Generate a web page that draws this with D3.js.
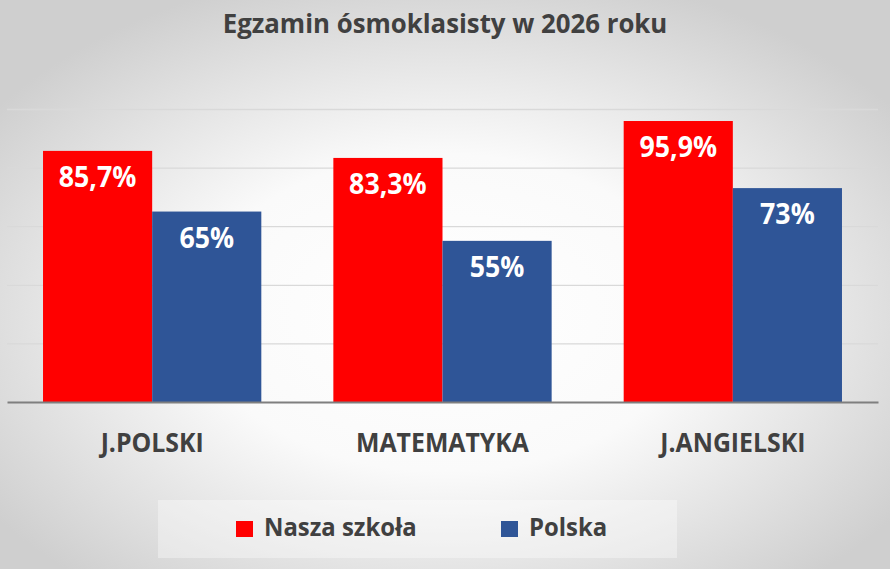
<!DOCTYPE html>
<html>
<head>
<meta charset="utf-8">
<script src="https://cdn.jsdelivr.net/npm/d3@7"></script>
<style>
  html, body { margin: 0; padding: 0; background: #fff; }
  svg { display: block; }
</style>
</head>
<body>
<div id="grafico"></div>
<script>
// datos del gráfico
var przedmioty = ["J.POLSKI", "MATEMATYKA", "J.ANGIELSKI"];
var serie = ["Nasza szkoła", "Polska"];
var naszaSzkola = [85.7, 83.3, 95.9];
var polska = [65, 55, 73];
var etiquetasNasza = ["85,7%", "83,3%", "95,9%"];
var etiquetasPolska = ["65%", "55%", "73%"];
var ticks = [0, 20, 40, 60, 80, 100];
var titulo = "Egzamin ósmoklasisty w 2026 roku";

function dibujar() {
    var w = 890,
        h = 569;

    var fuente = "'Open Sans', 'DejaVu Sans', sans-serif";
    var estrecho = 0.955; // Calibri es algo más estrecha que Open Sans

    var colores = {
        "rojo": "#FF0000",
        "azul": "#2F5597",
        "texto": "#404040",
        "rejilla": "#D9D9D9",
        "eje": "#7F7F7F"
    };

    var svg = d3.select("#grafico")
        .append("svg")
        .attr("width", w)
        .attr("height", h);

    // fondo con degradado radial
    var defs = svg.append("defs");
    var grad = defs.append("radialGradient")
        .attr("id", "fondo")
        .attr("cx", "50%").attr("cy", "55%")
        .attr("r", "62%");
    grad.append("stop").attr("offset", "0%").attr("stop-color", "#ffffff");
    grad.append("stop").attr("offset", "45%").attr("stop-color", "#fafafa");
    grad.append("stop").attr("offset", "100%").attr("stop-color", "#cfcfcf");

    svg.append("rect")
        .attr("width", w).attr("height", h)
        .attr("fill", "url(#fondo)");

    var y = d3.scaleLinear()
        .domain([0, 100])
        .range([402, 109]);

    var x0 = d3.scaleBand()
        .domain(przedmioty)
        .range([7, 878])
        .padding(0);

    var x1 = d3.scaleBand()
        .domain(serie)
        .range([0, x0.bandwidth()])
        .paddingInner(0)
        .paddingOuter(0.33);

    //REJILLA
    svg.append("g")
        .attr("transform", "translate(7,0)")
        .call(d3.axisLeft(y).tickValues(ticks.slice(1)).tickSize(-871).tickFormat(""))
        .call(function(g) { g.select(".domain").remove(); })
        .selectAll("line")
        .attr("stroke", colores.rejilla)
        .attr("stroke-width", 1.3);

    // ajusta el ancho del texto
    function estrechar(sel) {
        sel.each(function() {
            var l = this.getComputedTextLength();
            d3.select(this)
                .attr("textLength", l * estrecho)
                .attr("lengthAdjust", "spacingAndGlyphs");
        });
    }

    //TITULO
    svg.append("text")
        .text(titulo)
        .attr("x", w / 2)
        .attr("y", 33)
        .attr("text-anchor", "middle")
        .attr("font-family", fuente)
        .attr("font-weight", "bold")
        .attr("font-size", "27px")
        .attr("fill", colores.texto)
        .call(estrechar);

    var datos = przedmioty.map(function(p, i) {
        return [
            {cat: p, serie: serie[0], valor: naszaSzkola[i], etiqueta: etiquetasNasza[i], color: colores.rojo},
            {cat: p, serie: serie[1], valor: polska[i], etiqueta: etiquetasPolska[i], color: colores.azul}
        ];
    });

    //BARRAS
    var grupos = svg.selectAll("g.grupo")
        .data(datos)
        .enter().append("g")
        .attr("class", "grupo")
        .attr("transform", function(d) { return "translate(" + x0(d[0].cat) + ",0)"; });

    grupos.selectAll("rect")
        .data(function(d) { return d; })
        .enter().append("rect")
        .attr("x", function(d) { return x1(d.serie); })
        .attr("y", function(d) { return y(d.valor); })
        .attr("width", x1.bandwidth())
        .attr("height", function(d) { return y(0) - y(d.valor); })
        .attr("fill", function(d) { return d.color; });

    grupos.selectAll("text")
        .data(function(d) { return d; })
        .enter().append("text")
        .text(function(d) { return d.etiqueta; })
        .attr("x", function(d) { return x1(d.serie) + x1.bandwidth() / 2; })
        .attr("y", function(d) { return y(d.valor) + 36; })
        .attr("text-anchor", "middle")
        .attr("font-family", fuente)
        .attr("font-weight", "bold")
        .attr("font-size", "28px")
        .attr("fill", "#ffffff")
        .call(estrechar);

    //EJE X
    var ejeX = svg.append("g")
        .attr("transform", "translate(0," + y(0) + ")")
        .call(d3.axisBottom(x0).tickSize(0).tickPadding(0));

    ejeX.select(".domain")
        .attr("stroke", colores.eje)
        .attr("stroke-width", 2);

    ejeX.selectAll("text")
        .attr("dy", null)
        .attr("y", 50)
        .attr("font-family", fuente)
        .attr("font-weight", "bold")
        .attr("font-size", "26px")
        .attr("fill", colores.texto)
        .call(estrechar);

    //LEYENDA
    var leyenda = svg.append("g");
    leyenda.append("rect")
        .attr("x", 158).attr("y", 500)
        .attr("width", 519).attr("height", 58)
        .attr("fill", "#ffffff")
        .attr("fill-opacity", 0.35);

    var posLeyenda = [236, 501];
    serie.forEach(function(s, i) {
        leyenda.append("rect")
            .attr("x", posLeyenda[i])
            .attr("y", 521)
            .attr("width", 17)
            .attr("height", 16)
            .attr("fill", i === 0 ? colores.rojo : colores.azul);
        leyenda.append("text")
            .text(s)
            .attr("x", posLeyenda[i] + 28)
            .attr("y", 536)
            .attr("font-family", fuente)
            .attr("font-weight", "bold")
            .attr("font-size", "25px")
            .attr("fill", colores.texto)
            .call(estrechar);
    });
}

dibujar();
</script>
</body>
</html>
